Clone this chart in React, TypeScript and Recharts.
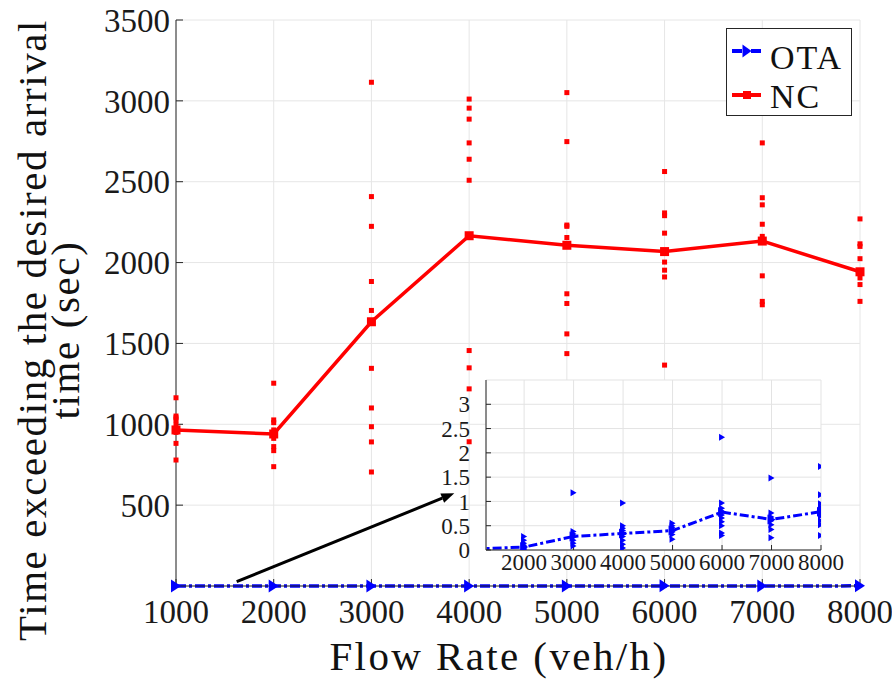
import React from 'react';
import {
  ComposedChart,
  Line,
  Scatter,
  XAxis,
  YAxis,
  CartesianGrid,
  Legend,
  ReferenceLine,
} from 'recharts';

// flow rates (veh/h)
const flowRates = [1000, 2000, 3000, 4000, 5000, 6000, 7000, 8000];

// mean lateness per flow rate (sec)
const ncMean = [965, 940, 1634, 2166, 2107, 2068, 2133, 1943];
const otaMean = [0.02, 0.06, 0.28, 0.34, 0.4, 0.78, 0.63, 0.79];

// individual runs, one list per flow rate
const ncRuns = [
  [1164, 1051, 1040, 1027, 1000, 950, 882, 779],
  [1254, 1027, 1010, 965, 913, 862, 837, 738],
  [3115, 2408, 2224, 1883, 1704, 1346, 1101, 985, 891, 705],
  [3011, 2955, 2887, 2740, 2639, 2509, 1456, 1349, 1219, 892],
  [3051, 2748, 2232, 2224, 2155, 1807, 1747, 1559, 1437],
  [2563, 2307, 2290, 2182, 2003, 1953, 1911, 1366],
  [2740, 2401, 2357, 2237, 2162, 1918, 1760, 1739],
  [2270, 2116, 2100, 2024, 1905, 1864, 1760],
];
const otaRuns = [
  [0.05, 0.02, 0.01],
  [0.28, 0.2, 0.14, 0.1, 0.06, 0.03, 0.01],
  [1.18, 0.38, 0.33, 0.27, 0.2, 0.14, 0.08],
  [0.97, 0.5, 0.45, 0.4, 0.34, 0.28, 0.2, 0.12, 0.04],
  [0.55, 0.5, 0.46, 0.42, 0.37, 0.32, 0.22],
  [2.32, 0.97, 0.86, 0.8, 0.72, 0.66, 0.58, 0.5, 0.35, 0.3],
  [1.48, 0.76, 0.68, 0.6, 0.52, 0.42, 0.25],
  [1.72, 1.14, 0.95, 0.88, 0.84, 0.74, 0.7, 0.6, 0.52, 0.3],
];

const mainYTicks = [500, 1000, 1500, 2000, 2500, 3000, 3500];
const insetXTicks = [2000, 3000, 4000, 5000, 6000, 7000, 8000];
const insetYTicks = [0, 0.5, 1, 1.5, 2, 2.5, 3];

const ncLine = flowRates.map((x, i) => ({ x, y: ncMean[i] }));
const otaLine = flowRates.map((x, i) => ({ x, y: otaMean[i] }));
const ncPoints = flowRates.flatMap((x, i) => ncRuns[i].map((y) => ({ x, y })));
const otaPoints = flowRates.flatMap((x, i) => otaRuns[i].map((y) => ({ x, y })));

const BLUE = '#0000ff';
const RED = '#ff0000';
const AXIS = '#262626';
const GRID = '#e6e6e6';
const FONT = '"Liberation Serif", "Times New Roman", serif';

const tri = (cx: number, cy: number, w: number, h: number) =>
  `${cx - w / 2},${cy - h / 2} ${cx + w / 2},${cy} ${cx - w / 2},${cy + h / 2}`;

const XTitle = (props: any) => {
  const vb = props.viewBox;
  return (
    <text
      x={vb.x + vb.width / 2 - 19}
      y={vb.y + vb.height - 10}
      textAnchor="middle"
      fontFamily={FONT}
      fontSize={41}
      letterSpacing={2.4}
      fill="#111"
    >
      Flow Rate (veh/h)
    </text>
  );
};

const YTitle = (props: any) => {
  const vb = props.viewBox;
  const cy = vb.y + vb.height / 2 + 27;
  return (
    <g fontFamily={FONT} fontSize={41} fill="#111" textAnchor="middle" letterSpacing={1.6}>
      <text x={46} y={cy} transform={`rotate(-90, 46, ${cy})`}>
        Time exceeding the desired arrival
      </text>
      <text x={79} y={cy} transform={`rotate(-90, 79, ${cy})`}>
        time (sec)
      </text>
    </g>
  );
};

const LegendBox = () => (
  <div
    style={{
      width: 126,
      height: 88,
      border: `1px solid ${AXIS}`,
      background: '#fff',
      boxSizing: 'border-box',
    }}
  >
    <svg width={124} height={86}>
      <line x1={5} x2={34} y1={22} y2={22} stroke={BLUE} strokeWidth={4} strokeDasharray="10 3 3 3" />
      <polygon points={tri(20, 22, 9, 13)} fill={BLUE} />
      <text x={43} y={40} fontFamily={FONT} fontSize={34} letterSpacing={2} fill="#111">
        OTA
      </text>
      <line x1={5} x2={34} y1={66} y2={66} stroke={RED} strokeWidth={4} />
      <rect x={16} y={62} width={8} height={8} fill={RED} />
      <text x={43} y={79} fontFamily={FONT} fontSize={34} letterSpacing={2} fill="#111">
        NC
      </text>
    </svg>
  </div>
);

const Arrow = (props: any) => {
  const { x1, y1, x2, y2 } = props;
  const a = Math.atan2(y2 - y1, x2 - x1);
  const len = 13;
  const half = 5;
  const bx = x2 - len * Math.cos(a);
  const by = y2 - len * Math.sin(a);
  const px = -Math.sin(a) * half;
  const py = Math.cos(a) * half;
  return (
    <g>
      <line x1={x1} y1={y1} x2={bx} y2={by} stroke="#000" strokeWidth={3} />
      <polygon points={`${x2},${y2} ${bx + px},${by + py} ${bx - px},${by - py}`} fill="#000" />
    </g>
  );
};

const tickStyle = { fontSize: 33, fontFamily: FONT, fill: '#1a1a1a' };
const insetTick = { fontSize: 23, fontFamily: FONT, fill: '#1a1a1a' };

export default function App() {
  return (
    <div style={{ position: 'absolute', left: 0, top: 0, width: 892, height: 680, background: '#fff' }}>
      <ComposedChart width={892} height={680} margin={{ top: 20, right: 32, bottom: 0, left: 0 }}>
        <CartesianGrid stroke={GRID} strokeWidth={1} />
        <XAxis
          dataKey="x"
          type="number"
          domain={[1000, 8000]}
          ticks={flowRates}
          interval={0}
          height={94}
          tickSize={-7}
          tickMargin={21}
          tick={tickStyle}
          axisLine={{ stroke: AXIS }}
          tickLine={{ stroke: AXIS }}
          label={(p: any) => <XTitle {...p} />}
        />
        <XAxis
          xAxisId="top"
          orientation="top"
          type="number"
          domain={[1000, 8000]}
          ticks={flowRates}
          interval={0}
          height={0}
          tickSize={-7}
          tick={false}
          axisLine={{ stroke: AXIS }}
          tickLine={{ stroke: AXIS }}
        />
        <YAxis
          dataKey="y"
          type="number"
          domain={[0, 3500]}
          ticks={mainYTicks}
          interval={0}
          width={176}
          tickSize={-7}
          tickMargin={13}
          tick={tickStyle}
          axisLine={{ stroke: AXIS }}
          tickLine={{ stroke: AXIS }}
          label={(p: any) => <YTitle {...p} />}
        />
        <YAxis
          yAxisId="right"
          orientation="right"
          type="number"
          domain={[0, 3500]}
          ticks={mainYTicks}
          interval={0}
          width={0}
          tickSize={-7}
          tick={false}
          axisLine={{ stroke: AXIS }}
          tickLine={{ stroke: AXIS }}
        />
        <Scatter
          data={ncPoints}
          dataKey="y"
          isAnimationActive={false}
          legendType="none"
          shape={(p: any) => <rect x={p.cx - 2.5} y={p.cy - 2.5} width={5} height={5} fill={RED} />}
        />
        <Line
          data={ncLine}
          dataKey="y"
          name="NC"
          stroke={RED}
          strokeWidth={3.5}
          isAnimationActive={false}
          dot={(p: any) => (
            <rect key={`nc-${p.index}`} x={p.cx - 4.5} y={p.cy - 4.5} width={9} height={9} fill={RED} />
          )}
        />
        <Line
          data={otaLine}
          dataKey="y"
          name="OTA"
          stroke={BLUE}
          strokeWidth={3.5}
          strokeDasharray="10 3 3 3"
          isAnimationActive={false}
          dot={(p: any) => <polygon key={`ota-${p.index}`} points={tri(p.cx, p.cy, 10, 13)} fill={BLUE} />}
        />
        <ReferenceLine
          segment={[
            { x: 1621, y: 27 },
            { x: 3848, y: 573 },
          ]}
          shape={(p: any) => <Arrow {...p} />}
        />
        <Legend
          layout="vertical"
          align="center"
          verticalAlign="middle"
          width={126}
          height={88}
          wrapperStyle={{ left: 726, top: 28, width: 126, height: 88 }}
          content={() => <LegendBox />}
        />
      </ComposedChart>

      {/* zoomed-in view of OTA */}
      <div style={{ position: 'absolute', left: 420, top: 370 }}>
        <ComposedChart width={470} height={215} margin={{ top: 10, right: 69, bottom: 0, left: 0 }}>
          <CartesianGrid stroke="#e3e3e3" fill="#fff" fillOpacity={1} />
          <XAxis
            dataKey="x"
            type="number"
            domain={[1230, 8000]}
            allowDataOverflow
            ticks={insetXTicks}
            interval={0}
            height={35}
            tickSize={-5}
            tickMargin={9}
            tick={insetTick}
            axisLine={{ stroke: AXIS }}
            tickLine={{ stroke: AXIS }}
          />
          <XAxis
            xAxisId="top"
            orientation="top"
            type="number"
            domain={[1230, 8000]}
            allowDataOverflow
            ticks={insetXTicks}
            interval={0}
            height={0}
            tickSize={-4}
            tick={false}
            axisLine={{ stroke: AXIS }}
            tickLine={{ stroke: AXIS }}
          />
          <YAxis
            dataKey="y"
            type="number"
            domain={[0, 3.5]}
            allowDataOverflow
            ticks={insetYTicks}
            interval={0}
            width={66}
            tickSize={-5}
            tickMargin={21}
            tick={insetTick}
            axisLine={{ stroke: AXIS }}
            tickLine={{ stroke: AXIS }}
          />
          <YAxis
            yAxisId="right"
            orientation="right"
            type="number"
            domain={[0, 3.5]}
            ticks={insetYTicks}
            interval={0}
            width={0}
            tickSize={-4}
            tick={false}
            axisLine={{ stroke: AXIS }}
            tickLine={{ stroke: AXIS }}
          />
          <Scatter
            data={otaPoints}
            dataKey="y"
            isAnimationActive={false}
            shape={(p: any) => <polygon points={tri(p.cx, p.cy, 6, 7)} fill={BLUE} />}
          />
          <Line
            data={otaLine}
            dataKey="y"
            stroke={BLUE}
            strokeWidth={3}
            strokeDasharray="9 3 3 3"
            isAnimationActive={false}
            dot={(p: any) => <polygon key={`io-${p.index}`} points={tri(p.cx, p.cy, 8, 10)} fill={BLUE} />}
          />
        </ComposedChart>
      </div>
    </div>
  );
}
